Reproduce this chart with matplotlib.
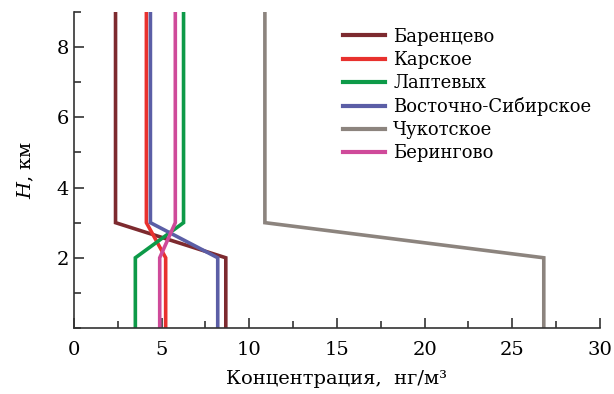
import matplotlib
matplotlib.use("Agg")
import matplotlib.pyplot as plt
from matplotlib.ticker import MultipleLocator

plt.rcParams['font.family'] = ['DejaVu Serif']
plt.rcParams['mathtext.fontset'] = 'dejavuserif'

heights = [0, 2, 3, 9]
names = ["Баренцево", "Карское", "Лаптевых", "Восточно-Сибирское", "Чукотское", "Берингово"]
barents = [8.66, 8.66, 2.37, 2.37]
kara = [5.23, 5.23, 4.13, 4.13]
laptev = [3.5, 3.5, 6.25, 6.25]
east_sib = [8.2, 8.2, 4.36, 4.36]
chukchi = [26.8, 26.8, 10.89, 10.89]
bering = [4.89, 4.89, 5.78, 5.78]
series = [barents, kara, laptev, east_sib, chukchi, bering]
colors = ["#7d2a2f", "#e8312e", "#0d9a48", "#5b5ea6", "#8c847e", "#cf4a9a"]

fig = plt.figure(figsize=(6.14, 3.94), dpi=100)
ax = fig.add_axes([0.1205, 0.1675, 0.8565, 0.802])
for vals, name, c in zip(series, names, colors):
    ax.plot(vals, heights, color=c, lw=2.6, label=name, solid_joinstyle='miter')

ax.set_xlim(0, 30)
ax.set_ylim(0, 9)
ax.xaxis.set_major_locator(MultipleLocator(5))
ax.xaxis.set_minor_locator(MultipleLocator(2.5))
ax.yaxis.set_major_locator(MultipleLocator(2))
ax.yaxis.set_minor_locator(MultipleLocator(1))
ax.set_yticks([2, 4, 6, 8])
for s in ['top', 'right']:
    ax.spines[s].set_visible(False)
for s in ['left', 'bottom']:
    ax.spines[s].set_color('#333333')
    ax.spines[s].set_linewidth(1.2)
ax.tick_params(which='both', direction='in', color='#333333', width=1.2, labelsize=14)
ax.tick_params(which='major', length=7)
ax.tick_params(which='minor', length=5)
ax.tick_params(axis='x', pad=9)
ax.set_xlabel("Концентрация,  нг/м³", fontsize=14, labelpad=8)
ax.set_ylabel(r"$\mathit{H}$, км", fontsize=14, labelpad=15)

leg = ax.legend(loc='upper left', bbox_to_anchor=(0.487, 0.99), frameon=False,
                fontsize=13, handlelength=2.35, handletextpad=0.45, labelspacing=0.28,
                borderpad=0.2)
for l in leg.get_lines():
    l.set_linewidth(3)

fig.savefig("out.png", dpi=100, facecolor='white')
